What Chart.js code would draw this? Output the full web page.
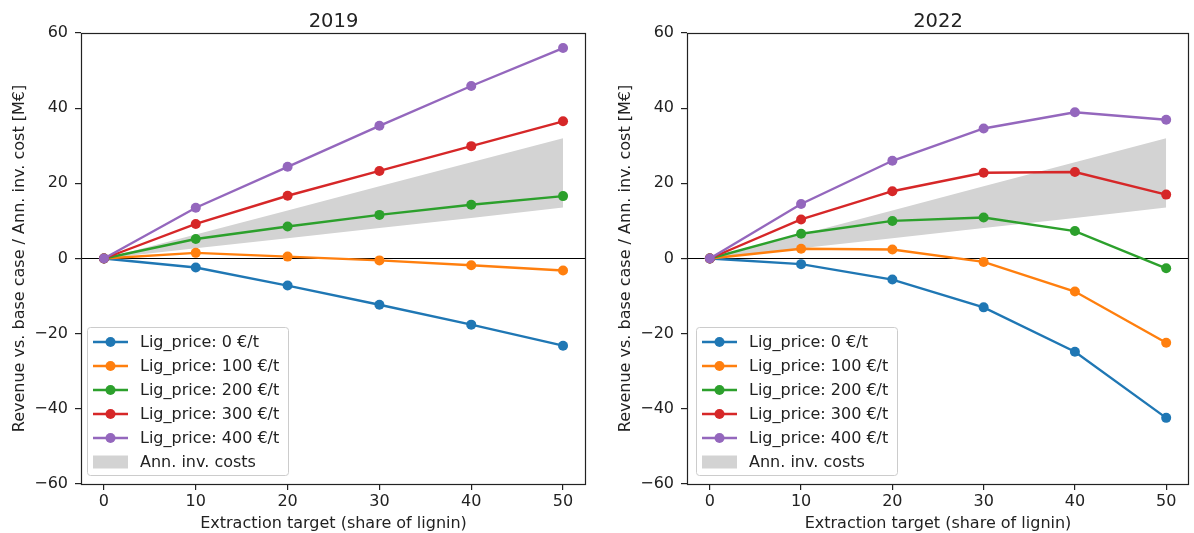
<!DOCTYPE html>
<html>
<head>
<meta charset="utf-8">
<script src="https://cdn.jsdelivr.net/npm/chart.js@4.4.1/dist/chart.umd.min.js"></script>
<style>
  body { margin: 0; background: #fff; }
  .panel { position: absolute; top: 0; width: 597px; height: 533px; }
</style>
</head>
<body>
<div class="panel" style="left:0"><canvas id="c2019"></canvas></div>
<div class="panel" style="left:597px"><canvas id="c2022"></canvas></div>
<script>
// extraction targets (share of lignin, %)
const targets = [0, 10, 20, 30, 40, 50];
const xTicks = [0, 10, 20, 30, 40, 50];
const yTicks = [-60, -40, -20, 0, 20, 40, 60];

const seriesLabels = ['Lig_price: 0 €/t', 'Lig_price: 100 €/t', 'Lig_price: 200 €/t', 'Lig_price: 300 €/t', 'Lig_price: 400 €/t'];
const colors = ['#1f77b4', '#ff7f0e', '#2ca02c', '#d62728', '#9467bd'];

// 2019 revenue vs. base case [M€]
const rev2019_p0   = [0, -2.4, -7.2, -12.3, -17.6, -23.2];
const rev2019_p100 = [0, 1.5, 0.5, -0.5, -1.8, -3.2];
const rev2019_p200 = [0, 5.2, 8.5, 11.6, 14.3, 16.6];
const rev2019_p300 = [0, 9.2, 16.7, 23.3, 29.9, 36.5];
const rev2019_p400 = [0, 13.5, 24.4, 35.3, 45.9, 56.0];

// 2022 revenue vs. base case [M€]
const rev2022_p0   = [0, -1.5, -5.6, -13.0, -24.8, -42.4];
const rev2022_p100 = [0, 2.6, 2.4, -0.9, -8.8, -22.4];
const rev2022_p200 = [0, 6.6, 10.0, 10.9, 7.3, -2.6];
const rev2022_p300 = [0, 10.4, 17.9, 22.8, 23.0, 17.0];
const rev2022_p400 = [0, 14.5, 26.0, 34.6, 38.9, 36.9];

// annualised investment costs band [M€]
const invCostLow  = [0, 2.7, 5.4, 8.1, 10.8, 13.6];
const invCostHigh = [0, 6.4, 12.8, 19.2, 25.6, 32.0];

const FONT = '"DejaVu Sans", sans-serif';
const INK = '#222';
const FS = 16;

function pts(vals) {
  return targets.map((x, i) => ({ x: x, y: vals[i] }));
}

// zero line, box, titles and the in-axes legend, drawn like matplotlib
const decor = {
  id: 'decor',
  beforeDatasetsDraw(chart) {
    const { ctx, chartArea: a, scales } = chart;
    const y0 = scales.y.getPixelForValue(0);
    ctx.save();
    ctx.strokeStyle = '#000';
    ctx.lineWidth = 1.2;
    ctx.beginPath();
    ctx.moveTo(a.left, y0);
    ctx.lineTo(a.right, y0);
    ctx.stroke();
    ctx.restore();
  },
  afterDraw(chart) {
    const { ctx, chartArea: a } = chart;
    const o = chart.options.plugins.decor;
    ctx.save();
    ctx.strokeStyle = INK;
    ctx.lineWidth = 1.2;
    ctx.strokeRect(Math.round(a.left) + 0.5, Math.round(a.top) + 0.5, Math.round(a.right - a.left) - 1, Math.round(a.bottom - a.top));

    ctx.fillStyle = INK;
    ctx.textAlign = 'center';
    ctx.textBaseline = 'alphabetic';
    ctx.font = '19.5px ' + FONT;
    ctx.fillText(o.title, (a.left + a.right) / 2, 27);
    ctx.font = FS + 'px ' + FONT;
    ctx.fillText('Extraction target (share of lignin)', (a.left + a.right) / 2, 528);

    ctx.save();
    ctx.translate(a.left - 61, (a.top + a.bottom) / 2);
    ctx.rotate(-Math.PI / 2);
    ctx.textBaseline = 'middle';
    ctx.fillText('Revenue vs. base case / Ann. inv. cost [M€]', 0, 0);
    ctx.restore();

    // legend
    const lx = a.left + o.legendOffset;
    const ly = 327, lw = 201, lh = 148;
    ctx.beginPath();
    ctx.roundRect(lx + 0.5, ly + 0.5, lw, lh, 3);
    ctx.fillStyle = 'rgba(255,255,255,0.8)';
    ctx.fill();
    ctx.strokeStyle = '#cccccc';
    ctx.lineWidth = 1;
    ctx.stroke();

    ctx.font = FS + 'px ' + FONT;
    ctx.textAlign = 'left';
    ctx.textBaseline = 'middle';
    seriesLabels.forEach((lab, i) => {
      const ry = ly + 15 + i * 24;
      ctx.strokeStyle = colors[i];
      ctx.lineWidth = 2.4;
      ctx.beginPath();
      ctx.moveTo(lx + 6, ry);
      ctx.lineTo(lx + 41, ry);
      ctx.stroke();
      ctx.fillStyle = colors[i];
      ctx.beginPath();
      ctx.arc(lx + 23.5, ry, 5, 0, Math.PI * 2);
      ctx.fill();
      ctx.fillStyle = INK;
      ctx.fillText(lab, lx + 53, ry + 1);
    });
    const ry = ly + 15 + 5 * 24;
    ctx.fillStyle = '#d3d3d3';
    ctx.fillRect(lx + 6, ry - 6.5, 35, 13);
    ctx.fillStyle = INK;
    ctx.fillText('Ann. inv. costs', lx + 53, ry + 1);
    ctx.restore();
  }
};

function makeChart(id, title, series, yAxisWidth, rightPad, legendOffset) {
  const datasets = series.map((vals, i) => ({
    label: seriesLabels[i],
    data: pts(vals),
    borderColor: colors[i],
    backgroundColor: colors[i],
    borderWidth: 2.4,
    pointRadius: 5,
    pointHoverRadius: 5,
    pointBorderWidth: 0,
    fill: false,
    order: 5 - i
  }));
  datasets.push({
    label: 'inv_high',
    data: pts(invCostHigh),
    borderWidth: 0,
    pointRadius: 0,
    fill: false,
    order: 10
  });
  datasets.push({
    label: 'Ann. inv. costs',
    data: pts(invCostLow),
    borderWidth: 0,
    pointRadius: 0,
    backgroundColor: '#d3d3d3',
    fill: '-1',
    order: 10
  });

  const tickGrid = { display: true, drawOnChartArea: false, drawTicks: true, tickLength: 6, color: INK, lineWidth: 1.2 };

  new Chart(document.getElementById(id), {
    type: 'line',
    data: { datasets: datasets },
    options: {
      responsive: true,
      maintainAspectRatio: false,
      animation: false,
      events: [],
      layout: { padding: { left: 0, right: rightPad, top: 33, bottom: 0 } },
      plugins: {
        legend: { display: false },
        tooltip: { enabled: false },
        decor: { title: title, legendOffset: legendOffset }
      },
      scales: {
        x: {
          type: 'linear',
          min: -2.5,
          max: 52.5,
          afterBuildTicks: s => { s.ticks = xTicks.map(v => ({ value: v })); },
          afterFit: s => { s.height = 49; },
          grid: tickGrid,
          border: { display: false },
          ticks: { color: INK, font: { family: FONT, size: FS }, padding: 2, maxRotation: 0 }
        },
        y: {
          min: -60,
          max: 60,
          afterBuildTicks: s => { s.ticks = yTicks.map(v => ({ value: v })); },
          afterFit: s => { s.width = yAxisWidth; },
          grid: tickGrid,
          border: { display: false },
          ticks: {
            color: INK, font: { family: FONT, size: FS }, padding: 7,
            callback: v => String(v).replace('-', '\u2212')
          }
        }
      }
    },
    plugins: [decor]
  });
}

makeChart('c2019', '2019', [rev2019_p0, rev2019_p100, rev2019_p200, rev2019_p300, rev2019_p400], 81, 11, 6);
makeChart('c2022', '2022', [rev2022_p0, rev2022_p100, rev2022_p200, rev2022_p300, rev2022_p400], 90, 1, 9);
</script>
</body>
</html>
